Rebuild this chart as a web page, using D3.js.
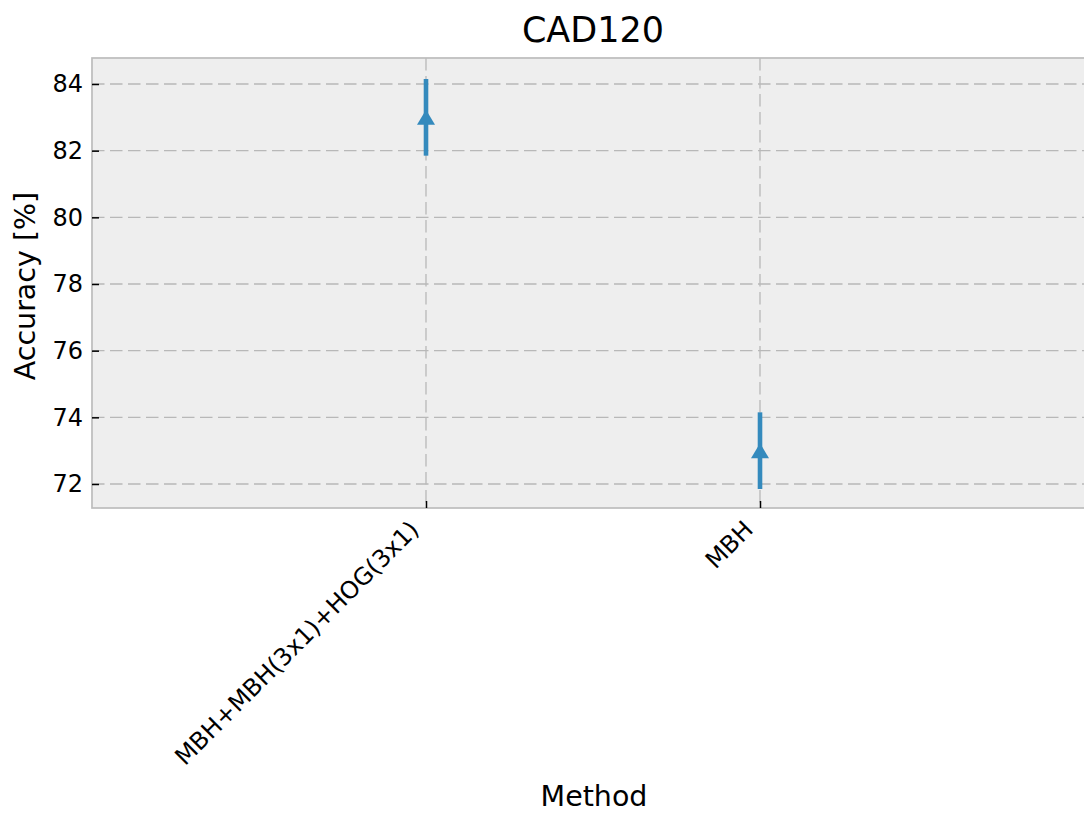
<!DOCTYPE html>
<html><head><meta charset="utf-8">
<script src="https://cdn.jsdelivr.net/npm/d3@7"></script>
<style>body{margin:0;background:#fff;} svg{display:block;font-family:"DejaVu Sans",sans-serif;}</style>
</head><body>
<script>
const categories = ["MBH+MBH(3x1)+HOG(3x1)", "MBH"];
const accuracy = [83.0, 73.0];
const errors = [1.15, 1.15];
const yTicks = [72, 74, 76, 78, 80, 82, 84];
const title = "CAD120";

const W = 1084, H = 813;
const m = {left: 92, top: 58, right: -10, bottom: 305};
const svg = d3.select("body").append("svg").attr("width", W).attr("height", H);
const pw = W - m.left - m.right, ph = H - m.top - m.bottom;

const x = d3.scaleLinear().domain([-1, 2]).range([m.left, m.left + pw]);
const y = d3.scaleLinear().domain([71.28, 84.78]).range([m.top + ph, m.top]);

svg.append("rect").attr("x", m.left).attr("y", m.top).attr("width", pw).attr("height", ph)
  .attr("fill", "#eeeeee");

const g = svg.append("g");
g.selectAll(".hg").data(yTicks).join("line")
  .attr("x1", m.left).attr("x2", m.left + pw).attr("y1", d => y(d)).attr("y2", d => y(d))
  .attr("stroke", "#b8b8b8").attr("stroke-width", 1.3).attr("stroke-dasharray", "12.5,5.5");
g.selectAll(".vg").data(categories).join("line")
  .attr("x1", (d, i) => x(i)).attr("x2", (d, i) => x(i)).attr("y1", m.top).attr("y2", m.top + ph)
  .attr("stroke", "#b8b8b8").attr("stroke-width", 1.3).attr("stroke-dasharray", "12.5,5.5");

svg.append("rect").attr("x", m.left).attr("y", m.top).attr("width", pw).attr("height", ph)
  .attr("fill", "none").attr("stroke", "#bcbcbc").attr("stroke-width", 1.7);

const yAxis = svg.append("g").attr("transform", `translate(${m.left},0)`)
  .call(d3.axisLeft(y).tickValues(yTicks).tickSize(-7).tickPadding(9).tickFormat(d3.format("d")));
yAxis.select(".domain").remove();
yAxis.selectAll(".tick line").attr("stroke", "#000").attr("stroke-width", 1.5);
yAxis.selectAll(".tick text").attr("font-size", 24).attr("fill", "#000").attr("font-family", "DejaVu Sans");

const xAxis = svg.append("g").attr("transform", `translate(0,${m.top + ph})`)
  .call(d3.axisBottom(x).tickValues([0, 1]).tickSize(-7).tickFormat(i => categories[i]));
xAxis.select(".domain").remove();
xAxis.selectAll(".tick line").attr("stroke", "#000").attr("stroke-width", 1.5);
xAxis.selectAll(".tick text").attr("font-size", 24).attr("fill", "#000").attr("font-family", "DejaVu Sans")
  .attr("text-anchor", "end").attr("dy", null).attr("y", 0)
  .attr("transform", "translate(-6,23) rotate(-45)");

const color = "#348ABD";
svg.selectAll(".err").data(accuracy).join("line")
  .attr("x1", (d, i) => x(i)).attr("x2", (d, i) => x(i))
  .attr("y1", (d, i) => y(d - errors[i])).attr("y2", (d, i) => y(d + errors[i]))
  .attr("stroke", color).attr("stroke-width", 4.6);

// triangle-up marker centred on its bounding box (like matplotlib '^')
const triUp = { draw(ctx, size) {
  const hw = Math.sqrt(size) / 2 * 1.2, hh = Math.sqrt(size) / 2;
  ctx.moveTo(0, -hh); ctx.lineTo(hw, hh); ctx.lineTo(-hw, hh); ctx.closePath();
}};
svg.selectAll(".mk").data(accuracy).join("path")
  .attr("d", d3.symbol().type(triUp).size(225))
  .attr("transform", (d, i) => `translate(${x(i)},${y(d)})`)
  .attr("fill", color);

svg.append("text").attr("x", 593).attr("y", 42).attr("text-anchor", "middle")
  .attr("font-size", 35).text(title);
svg.append("text").attr("x", 594).attr("y", 806).attr("text-anchor", "middle")
  .attr("font-size", 28.5).text("Method");
svg.append("text").attr("transform", "translate(35,286) rotate(-90)").attr("text-anchor", "middle")
  .attr("font-size", 28.5).text("Accuracy [%]");
</script>
</body></html>
